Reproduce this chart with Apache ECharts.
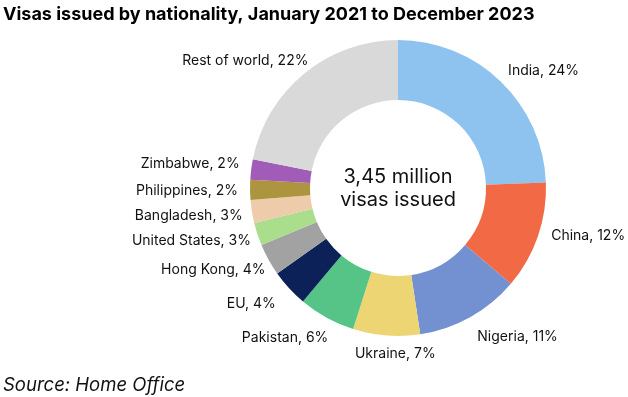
<!DOCTYPE html>
<html>
<head>
<meta charset="utf-8">
<script src="https://cdn.jsdelivr.net/npm/echarts@6/dist/echarts.min.js"></script>
<style>
  html, body { margin: 0; padding: 0; background: #fff; }
  #chart { width: 628px; height: 397px; }
</style>
</head>
<body>
<div id="chart"></div>
<script>
// shares of visas issued (%)
var countries = ['India', 'China', 'Nigeria', 'Ukraine', 'Pakistan', 'EU', 'Hong Kong',
                 'United States', 'Bangladesh', 'Philippines', 'Zimbabwe', 'Rest of world'];
var shares = [24.4, 11.8, 11.4, 7.3, 6.2, 4.1, 3.5, 2.5, 2.5, 2.2, 2.2, 21.9];
var sliceColors = ['#8ec3ef', '#f26a45', '#7391d0', '#edd574', '#55c486', '#0c2158', '#a2a2a2',
                   '#aade8c', '#eecbab', '#ad9540', '#a15cb7', '#d9d9d9'];
// small hand tweaks to label placement (px), like the original's manual nudges
var labelNudge = [[10, 3], [4, -7], [22, 3], [13, -1], [-15, 3], [-11, 3], [1, 1],
                  [2, 1], [2, 1], [0, 1], [0, -3], [-11, 2]];

var font = 'Inter, "Liberation Sans", sans-serif';
var cx = 398, cy = 188, rIn = 88, rOut = 148;
var labelR = rOut + 12;

// mid angle of each slice, clockwise from 12 o'clock
var total = shares.reduce(function (a, b) { return a + b; }, 0);
var midAngles = [];
var acc = 0;
shares.forEach(function (v) {
    midAngles.push((acc + v / 2) / total * 2 * Math.PI);
    acc += v;
});

var chart = echarts.init(document.getElementById('chart'));

var data = countries.map(function (c, i) {
    return { name: c, value: shares[i], itemStyle: { color: sliceColors[i] } };
});

chart.setOption({
    animation: false,
    title: [{
        text: 'Visas issued by nationality, January 2021 to December 2023',
        left: 3, top: 6, padding: 0,
        textStyle: { fontFamily: font, fontWeight: 'bold', fontSize: 18, color: '#000' }
    }, {
        text: 'Source: Home Office',
        left: 3, top: 376, padding: 0,
        textStyle: { fontFamily: font, fontStyle: 'italic', fontWeight: 'normal', fontSize: 18.5, color: '#111' }
    }],
    graphic: [{
        type: 'text',
        x: cx, y: cy + 0.5,
        style: {
            text: '3,45 million\nvisas issued',
            fontFamily: font, fontSize: 20, lineHeight: 23, fill: '#111',
            align: 'center', verticalAlign: 'middle'
        }
    }],
    series: [{
        type: 'pie',
        center: [cx, cy],
        radius: [rIn, rOut],
        startAngle: 90,
        clockwise: true,
        data: data,
        itemStyle: { borderWidth: 0 },
        label: {
            show: true,
            position: 'outside',
            overflow: 'none',
            fontFamily: font,
            fontSize: 14,
            color: '#111',
            formatter: function (p) { return p.name + ', ' + Math.round(p.value) + '%'; }
        },
        labelLine: { show: false, length: 6, length2: 0 },
        labelLayout: function (p) {
            var a = midAngles[p.dataIndex];
            var s = Math.sin(a), c = Math.cos(a);
            var w = p.labelRect.width, h = p.labelRect.height;
            var n = labelNudge[p.dataIndex];
            return {
                x: cx + labelR * s + (w / 2) * s + n[0],
                y: cy - labelR * c - (h / 2) * c + n[1],
                align: 'center',
                verticalAlign: 'middle'
            };
        },
        emphasis: { disabled: true }
    }]
});
</script>
</body>
</html>
